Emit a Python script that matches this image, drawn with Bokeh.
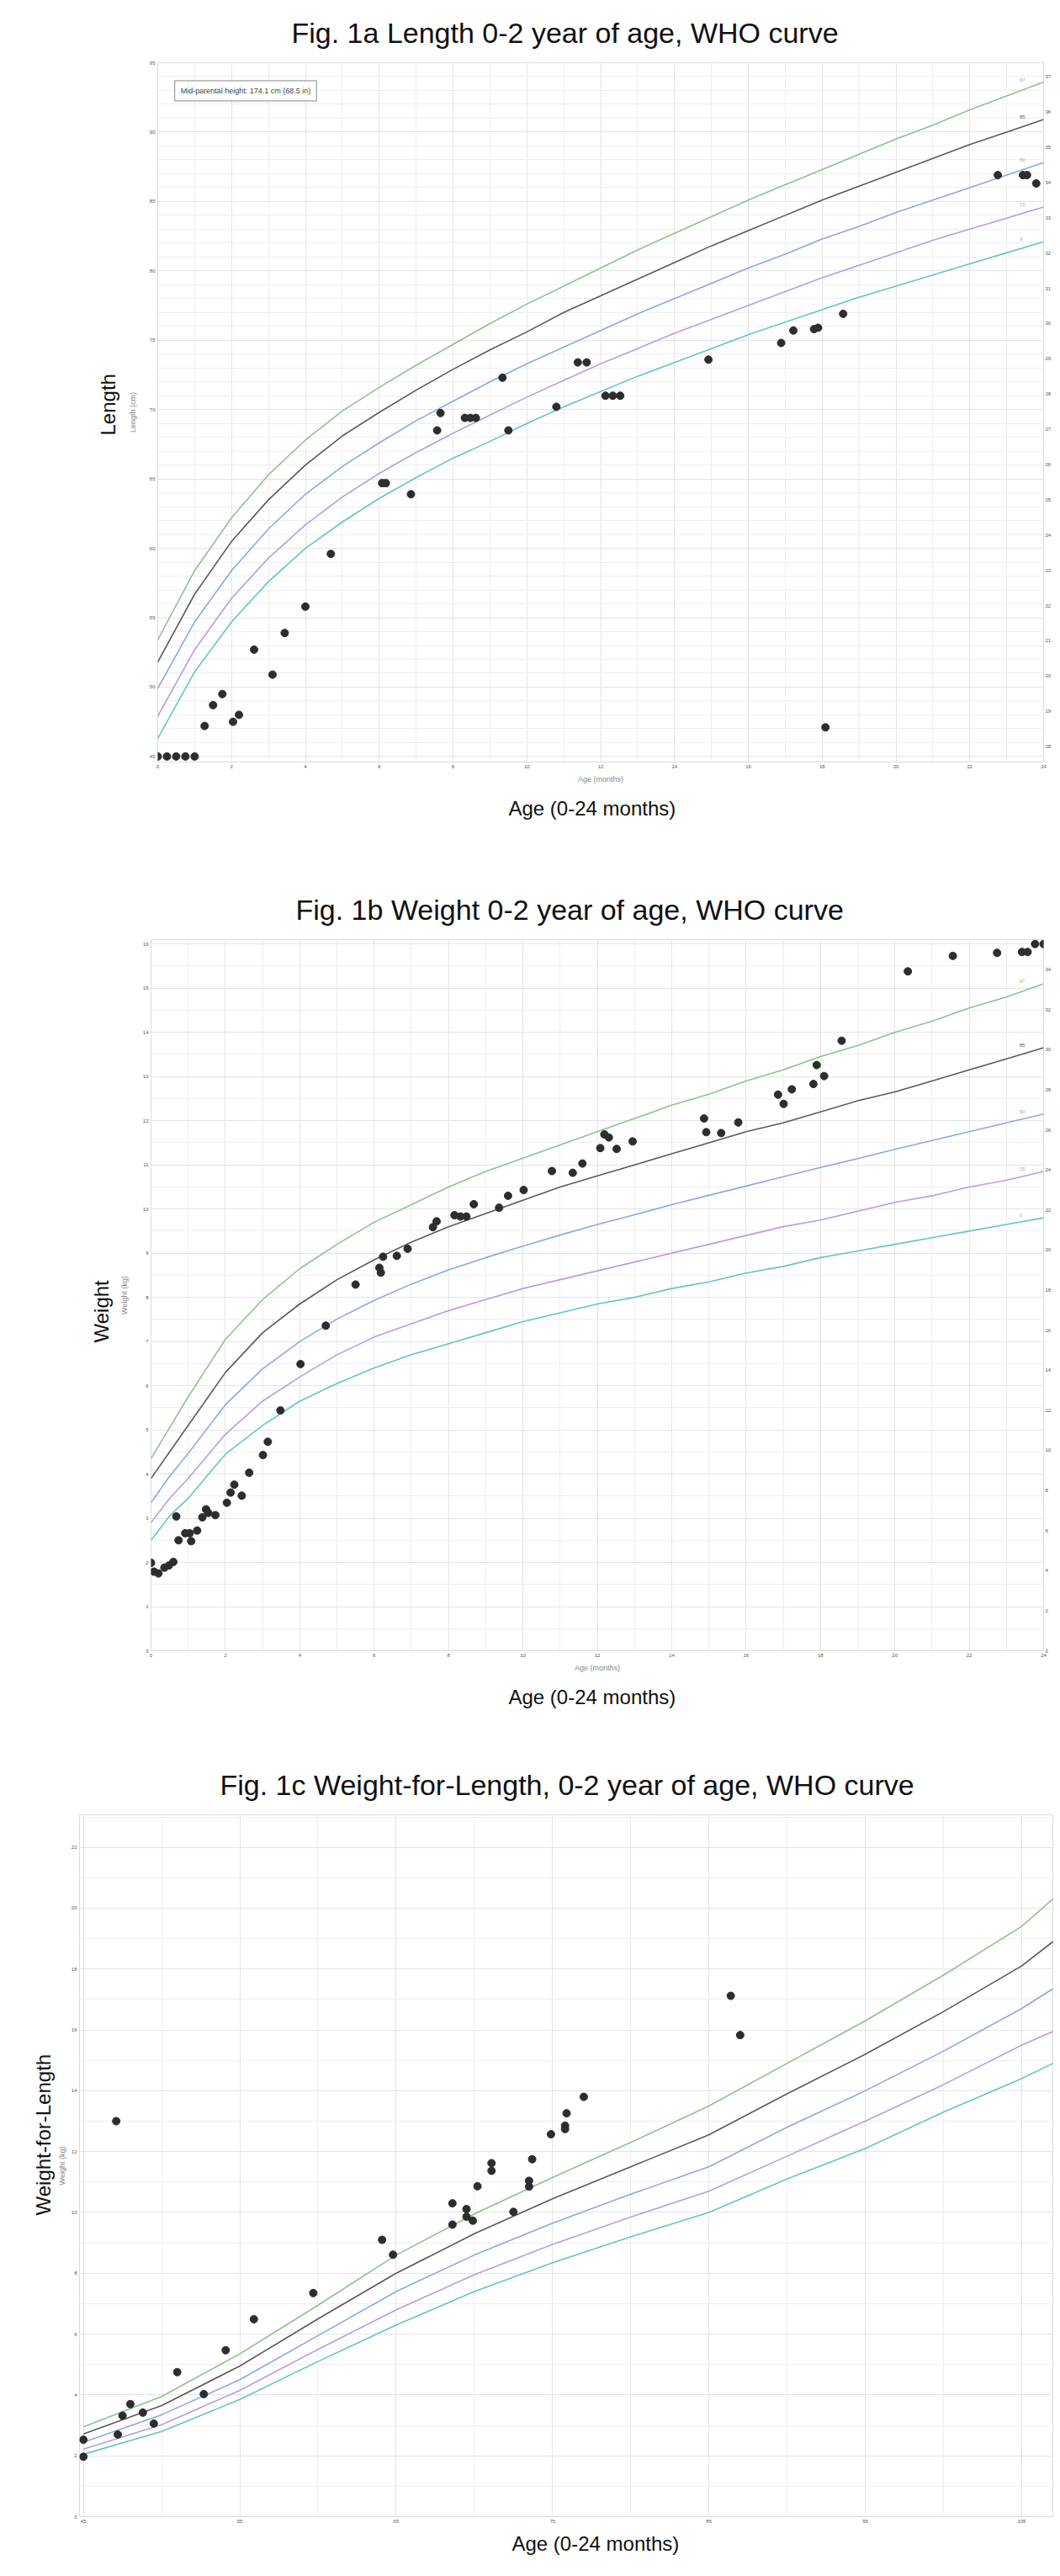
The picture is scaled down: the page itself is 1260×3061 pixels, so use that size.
from bokeh.plotting import figure
from bokeh.models import Range1d, LinearAxis, FixedTicker, Title, Label, ColumnDataSource
from bokeh.embed import file_html
from bokeh.resources import INLINE
from bokeh.core.properties import value

FONT = "Liberation Sans"

# ---------------- Fig 1a : length-for-age (WHO percentiles) ----------------
len_curve_age = [0, 1, 2, 3, 4, 5, 6, 7, 8, 9, 10, 11, 12, 13, 14, 15, 16, 17, 18, 19, 20, 21, 22, 23, 24]
len_p97 = [53.4, 58.4, 62.2, 65.3, 67.8, 69.9, 71.6, 73.2, 74.7, 76.2, 77.6, 78.9, 80.2, 81.5, 82.7, 83.9, 85.1, 86.2, 87.3, 88.4, 89.5, 90.5, 91.6, 92.6, 93.6]
len_p85 = [51.8, 56.7, 60.5, 63.5, 66.0, 68.1, 69.8, 71.4, 72.9, 74.3, 75.6, 77.0, 78.2, 79.4, 80.6, 81.8, 82.9, 84.0, 85.1, 86.1, 87.1, 88.1, 89.1, 90.0, 90.9]
len_p50 = [49.9, 54.7, 58.4, 61.4, 63.9, 65.9, 67.6, 69.2, 70.6, 72.0, 73.3, 74.5, 75.7, 76.9, 78.0, 79.1, 80.2, 81.2, 82.3, 83.2, 84.2, 85.1, 86.0, 86.9, 87.8]
len_p15 = [47.9, 52.7, 56.4, 59.3, 61.7, 63.7, 65.4, 66.9, 68.3, 69.6, 70.9, 72.1, 73.3, 74.4, 75.5, 76.5, 77.5, 78.5, 79.5, 80.4, 81.3, 82.2, 83.0, 83.8, 84.6]
len_p3 = [46.3, 51.1, 54.7, 57.6, 60.0, 61.9, 63.6, 65.1, 66.5, 67.7, 69.0, 70.2, 71.3, 72.4, 73.4, 74.4, 75.4, 76.3, 77.2, 78.1, 78.9, 79.7, 80.5, 81.3, 82.1]

len_pt_age = [0, 0.25, 0.5, 0.75, 1.0, 1.27, 1.5, 1.75, 2.04, 2.2, 2.61, 3.11, 3.44, 4.0, 4.69,
              6.08, 6.18, 6.86, 7.57, 7.66, 8.32, 8.47, 8.62, 9.34, 9.5, 10.8, 11.38, 11.62,
              12.13, 12.33, 12.53, 14.92, 16.89, 17.22, 17.78, 17.89, 18.09, 18.57,
              22.76, 23.44, 23.55, 23.8]
len_pt_cm = [45, 45, 45, 45, 45, 47.2, 48.7, 49.5, 47.5, 48.0, 52.7, 50.9, 53.9, 55.8, 59.6,
             64.7, 64.7, 63.9, 68.5, 69.75, 69.4, 69.4, 69.4, 72.3, 68.5, 70.2, 73.4, 73.4,
             71.0, 71.0, 71.0, 73.6, 74.8, 75.7, 75.8, 75.9, 47.1, 76.9,
             86.9, 86.9, 86.9, 86.3]

# ---------------- Fig 1b : weight-for-age (WHO percentiles) ----------------
wt_curve_age = [0, 0.5, 1, 2, 3, 4, 5, 6, 7, 8, 9, 10, 11, 12, 13, 14, 15, 16, 17, 18, 19, 20, 21, 22, 23, 24]
wt_p97 = [4.35, 5.05, 5.75, 7.05, 7.95, 8.65, 9.2, 9.7, 10.1, 10.5, 10.85, 11.15, 11.45, 11.75, 12.05, 12.35, 12.6, 12.9, 13.15, 13.45, 13.7, 14.0, 14.25, 14.55, 14.8, 15.1]
wt_p85 = [3.9, 4.5, 5.1, 6.3, 7.2, 7.85, 8.4, 8.85, 9.25, 9.6, 9.9, 10.2, 10.5, 10.75, 11.0, 11.25, 11.5, 11.75, 11.95, 12.2, 12.45, 12.65, 12.9, 13.15, 13.4, 13.65]
wt_p50 = [3.35, 3.95, 4.47, 5.57, 6.38, 7.0, 7.51, 7.93, 8.3, 8.62, 8.9, 9.16, 9.41, 9.65, 9.87, 10.1, 10.31, 10.52, 10.73, 10.94, 11.14, 11.35, 11.55, 11.75, 11.95, 12.15]
wt_p15 = [2.9, 3.45, 3.9, 4.9, 5.65, 6.2, 6.7, 7.1, 7.4, 7.7, 7.95, 8.2, 8.4, 8.6, 8.8, 9.0, 9.2, 9.4, 9.6, 9.75, 9.95, 10.15, 10.3, 10.5, 10.65, 10.85]
wt_p3 = [2.5, 3.05, 3.45, 4.45, 5.1, 5.65, 6.05, 6.4, 6.7, 6.95, 7.2, 7.45, 7.65, 7.85, 8.0, 8.2, 8.35, 8.55, 8.7, 8.9, 9.05, 9.2, 9.35, 9.5, 9.65, 9.8]

wt_pt_age = [0, 0.08, 0.2, 0.36, 0.48, 0.6, 0.68, 0.74, 0.92, 1.04, 1.08, 1.24, 1.38, 1.48, 1.54,
             1.73, 2.04, 2.14, 2.24, 2.44, 2.64, 3.01, 3.14, 3.48, 4.02, 4.70, 5.5, 6.14, 6.18,
             6.24, 6.61, 6.9, 7.58, 7.68, 8.16, 8.32, 8.48, 8.68, 9.36, 9.6, 10.02, 10.78, 11.34,
             11.6, 12.08, 12.19, 12.31, 12.52, 12.95, 14.87, 14.93, 15.33, 15.79, 16.86, 17.01,
             17.23, 17.81, 17.9, 18.1, 18.57, 20.35, 21.56, 22.75, 23.42, 23.57, 23.77, 24.0]
wt_pt_kg = [1.99, 1.79, 1.75, 1.88, 1.93, 2.01, 3.04, 2.50, 2.66, 2.66, 2.48, 2.72, 3.02, 3.20, 3.12,
            3.07, 3.35, 3.58, 3.76, 3.51, 4.03, 4.43, 4.73, 5.44, 6.49, 7.36, 8.29, 8.67, 8.56,
            8.92, 8.94, 9.10, 9.59, 9.72, 9.86, 9.83, 9.83, 10.11, 10.03, 10.30, 10.43, 10.86, 10.82,
            11.03, 11.38, 11.69, 11.62, 11.36, 11.53, 12.05, 11.74, 11.72, 11.96, 12.59, 12.38,
            12.71, 12.83, 13.26, 13.01, 13.81, 15.38, 15.73, 15.80, 15.82, 15.82, 16.0, 16.0]

# ---------------- Fig 1c : weight-for-length (WHO percentiles) ----------------
wfl_len = [45, 50, 55, 60, 65, 70, 75, 80, 85, 90, 95, 100, 105, 107]
wfl_p97 = [2.95, 3.95, 5.35, 6.95, 8.6, 9.95, 11.15, 12.3, 13.5, 14.9, 16.3, 17.8, 19.4, 20.3]
wfl_p85 = [2.72, 3.65, 4.95, 6.5, 8.0, 9.3, 10.45, 11.5, 12.55, 13.9, 15.2, 16.6, 18.1, 18.9]
wfl_p50 = [2.45, 3.35, 4.5, 5.95, 7.4, 8.6, 9.65, 10.6, 11.5, 12.8, 14.0, 15.3, 16.7, 17.35]
wfl_p15 = [2.22, 3.02, 4.15, 5.5, 6.8, 7.95, 8.95, 9.85, 10.7, 11.85, 13.0, 14.2, 15.5, 15.95]
wfl_p3 = [2.05, 2.8, 3.85, 5.1, 6.3, 7.4, 8.35, 9.2, 10.0, 11.1, 12.1, 13.3, 14.4, 14.9]

wfl_pt_len = [45, 45, 47.1, 47.2, 47.5, 48.0, 48.8, 49.5, 51.0, 52.7, 54.1, 55.9, 59.7, 64.1, 64.8,
              68.6, 68.6, 69.5, 69.5, 69.9, 70.2, 71.1, 71.1, 72.5, 73.5, 73.5, 73.7, 74.9,
              75.8, 75.8, 75.9, 77.0, 86.4, 87.0]
wfl_pt_kg = [2.53, 1.97, 13.0, 2.70, 3.32, 3.70, 3.42, 3.06, 4.75, 4.03, 5.47, 6.49, 7.35, 9.10, 8.61,
             10.30, 9.60, 10.11, 9.86, 9.73, 10.86, 11.62, 11.37, 10.02, 11.04, 10.85, 11.75, 12.57,
             12.85, 12.74, 13.26, 13.80, 17.12, 15.83]

pct_names = ["97", "85", "50", "15", "3"]
pct_colors = ["#8cc48a", "#5a5a5a", "#8aa8e8", "#b89ce8", "#62c6c6"]

month_ticks = [0, 2, 4, 6, 8, 10, 12, 14, 16, 18, 20, 22, 24]
month_minor = list(range(0, 25))


def style_axis(ax, label, ticks, minor, standoff, lab_standoff):
    ax.ticker = FixedTicker(ticks=ticks, minor_ticks=minor)
    ax.axis_label = label if label else None
    ax.axis_label_text_font = FONT
    ax.axis_label_text_font_size = "9px"
    ax.axis_label_text_font_style = "normal"
    ax.axis_label_text_color = "#8a8a8a"
    ax.axis_label_standoff = lab_standoff
    ax.major_label_text_font = FONT
    ax.major_label_text_font_size = "6px"
    ax.major_label_text_color = "#555555"
    ax.major_label_standoff = standoff
    ax.axis_line_color = None
    ax.major_tick_line_color = None
    ax.minor_tick_line_color = None
    ax.major_tick_out = 0
    ax.major_tick_in = 0
    ax.minor_tick_out = 0
    ax.minor_tick_in = 0


def base_fig(height, left, top, bottom, xr, yr, title, title_off, title_standoff):
    p = figure(width=1252, height=height, x_range=xr, y_range=yr,
               output_backend="svg", toolbar_location=None,
               min_border_left=left, min_border_top=top, min_border_bottom=bottom,
               min_border_right=0)
    p.title.text = title
    p.title.align = "left"
    p.title.offset = title_off
    p.title.standoff = title_standoff
    p.title.text_font = FONT
    p.title.text_font_size = "34px"
    p.title.text_font_style = "normal"
    p.title.text_color = "#111111"
    p.outline_line_color = "#dcdcdc"
    p.background_fill_color = "white"
    p.border_fill_color = "white"
    p.xgrid.grid_line_color = "#e4e4e4"
    p.ygrid.grid_line_color = "#e4e4e4"
    p.xgrid.minor_grid_line_color = "#eeeeee"
    p.ygrid.minor_grid_line_color = "#eeeeee"
    return p


def add_ylabel(p, ylab, ylab_off, ylab_standoff):
    t = Title(text=ylab, align="left", offset=ylab_off, standoff=ylab_standoff,
              text_font=FONT, text_font_size="24px", text_font_style="normal",
              text_color="#111111")
    p.add_layout(t, "left")


def add_xlabel(p, xlab_off, xlab_standoff, valign):
    b = Title(text="Age (0-24 months)", align="left", offset=xlab_off, standoff=xlab_standoff,
              vertical_align=valign, text_font=FONT, text_font_size="24px",
              text_font_style="normal", text_color="#111111")
    p.add_layout(b, "below")


def add_curves(p, xs, curves, label_x):
    for ys, c in zip(curves, pct_colors):
        p.line(xs, ys, line_color=c, line_width=1.6)
    if label_x is not None:
        src = ColumnDataSource(dict(x=[label_x] * 5, y=[c[-1] for c in curves],
                                    t=pct_names, c=pct_colors))
        p.text(x="x", y="y", text="t", text_color="c", source=src,
               text_font=value(FONT), text_font_size="6px",
               text_baseline="middle", text_align="left", y_offset=-3)


# ---------------- Figure A ----------------
pa = base_fig(1042, 187, 62, 137, Range1d(0, 24), Range1d(44.6, 95),
              "Fig. 1a Length 0-2 year of age, WHO curve", 159, 34)
style_axis(pa.xaxis[0], "Age (months)", month_ticks, month_minor, 3, 5)
style_axis(pa.yaxis[0], "Length (cm)", list(range(45, 96, 5)), list(range(45, 96)), 3, 12)
pa.extra_y_ranges = {"inch": Range1d(44.6 / 2.54, 95 / 2.54)}
ra = LinearAxis(y_range_name="inch")
style_axis(ra, "", list(range(18, 38)), [], 2, 0)
pa.add_layout(ra, "right")
add_curves(pa, len_curve_age, [len_p97, len_p85, len_p50, len_p15, len_p3], 23.35)
pa.scatter(len_pt_age, len_pt_cm, size=9, color="#2d2d2d")
pa.add_layout(Label(x=0.46, y=93.7, text="Mid-parental height: 174.1 cm (68.5 in)",
                    text_font=FONT, text_font_size="9px", text_color="#444444",
                    text_baseline="top", border_line_color="#888888",
                    background_fill_color="white", padding=7))
add_ylabel(pa, "Length", 388, 16)
add_xlabel(pa, 417, 26, "top")

# ---------------- Figure B ----------------
pb = base_fig(1040, 179, 73, 121, Range1d(0, 24), Range1d(0, 16.1),
              "Fig. 1b Weight 0-2 year of age, WHO curve", 172, 34)
style_axis(pb.xaxis[0], "Age (months)", month_ticks, month_minor, 3, 5)
style_axis(pb.yaxis[0], "Weight (kg)", list(range(0, 17)), [x / 2 for x in range(0, 33)], 3, 14)
pb.extra_y_ranges = {"lb": Range1d(0, 16.1 * 2.20462)}
rb = LinearAxis(y_range_name="lb")
style_axis(rb, "", list(range(0, 36, 2)), [], 2, 0)
pb.add_layout(rb, "right")
add_curves(pb, wt_curve_age, [wt_p97, wt_p85, wt_p50, wt_p15, wt_p3], 23.35)
pb.scatter(wt_pt_age, wt_pt_kg, size=9, color="#2d2d2d")
add_ylabel(pb, "Weight", 366, 12)
add_xlabel(pb, 425, 26, "top")

# ---------------- Figure C ----------------
pc = base_fig(963, 94, 71, 55, Range1d(44.75, 107.05), Range1d(0, 23.07),
              "Fig. 1c Weight-for-Length, 0-2 year of age, WHO curve", 167, 34)
style_axis(pc.xaxis[0], "", list(range(45, 106, 10)), list(range(45, 108, 5)), 3, 0)
style_axis(pc.yaxis[0], "Weight (kg)", list(range(0, 23, 2)), list(range(0, 24)), 3, 3)
add_curves(pc, wfl_len, [wfl_p97, wfl_p85, wfl_p50, wfl_p15, wfl_p3], None)
pc.scatter(wfl_pt_len, wfl_pt_kg, size=9, color="#2d2d2d")
add_ylabel(pc, "Weight-for-Length", 358, 2)
add_xlabel(pc, 514, 12, "bottom")

open("out.html", "w").write(file_html([pa, pb, pc], INLINE))
